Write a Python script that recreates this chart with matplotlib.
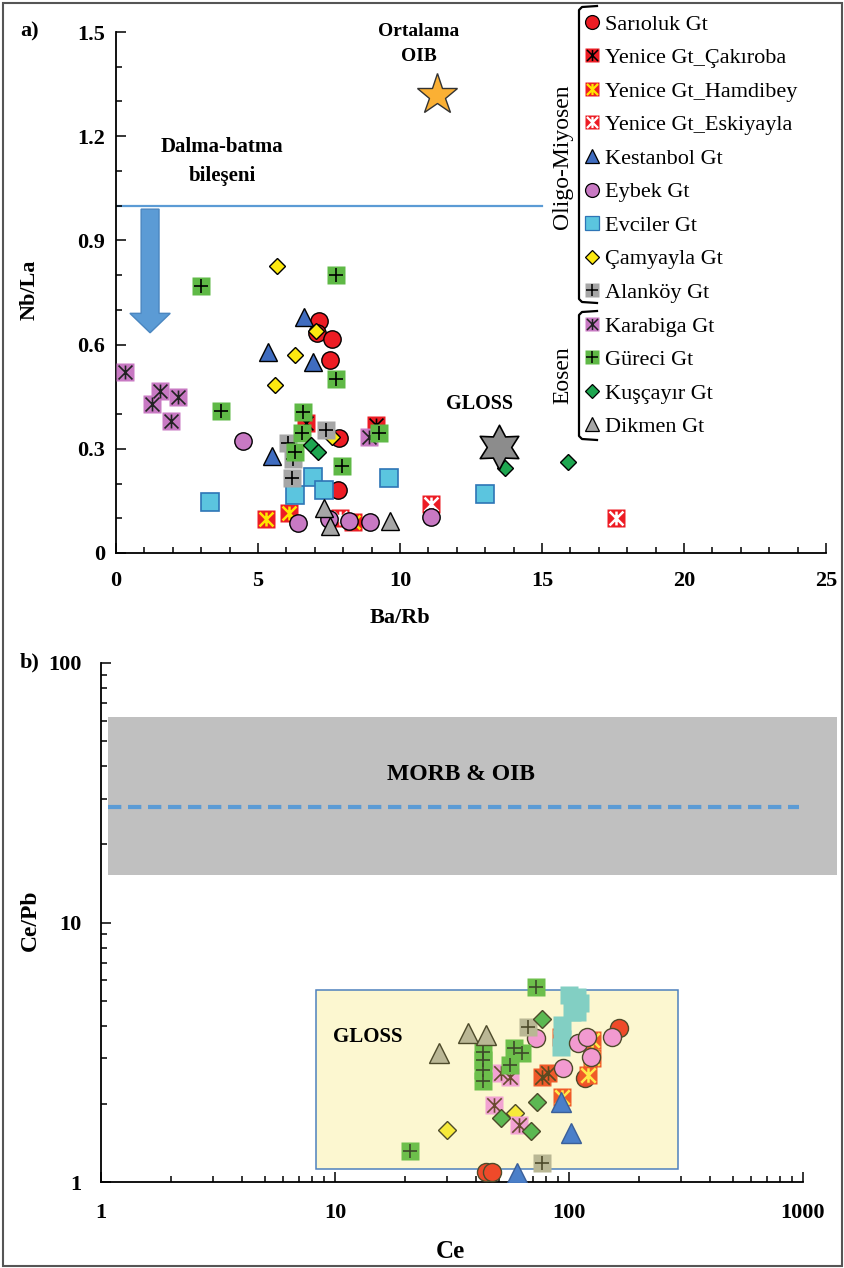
import numpy as np
import matplotlib
matplotlib.use('Agg')
from matplotlib import pyplot as plt
from matplotlib.lines import Line2D
from matplotlib.path import Path
from matplotlib.patches import Rectangle, FancyArrow
from matplotlib.legend_handler import HandlerTuple

# ---- a) Nb/La vs Ba/Rb ----
sarioluk_a_x = [7.15, 7.07, 7.6, 7.53, 7.85, 7.82]
sarioluk_a_y = [0.668, 0.633, 0.616, 0.556, 0.331, 0.18]
cakiroba_a_x = [6.7, 9.15]
cakiroba_a_y = [0.374, 0.368]
hamdibey_a_x = [5.28, 6.1, 8.35]
hamdibey_a_y = [0.098, 0.115, 0.09]
eskiyayla_a_x = [7.9, 11.1, 17.6]
eskiyayla_a_y = [0.10, 0.14, 0.10]
kestanbol_a_x = [6.62, 5.35, 6.94, 5.5]
kestanbol_a_y = [0.68, 0.58, 0.55, 0.28]
eybek_a_x = [4.47, 6.4, 7.5, 8.2, 8.94, 11.1]
eybek_a_y = [0.323, 0.086, 0.098, 0.093, 0.09, 0.104]
evciler_a_x = [3.3, 6.3, 6.94, 7.33, 9.6, 13.0]
evciler_a_y = [0.147, 0.167, 0.22, 0.18, 0.216, 0.17]
camyayla_a_x = [5.67, 7.04, 6.3, 5.6, 7.6]
camyayla_a_y = [0.827, 0.64, 0.57, 0.484, 0.335]
alankoy_a_x = [7.4, 6.06, 6.2, 6.25]
alankoy_a_y = [0.354, 0.317, 0.216, 0.27]
karabiga_a_x = [0.32, 1.55, 1.27, 2.18, 1.94, 8.9]
karabiga_a_y = [0.52, 0.467, 0.43, 0.45, 0.38, 0.334]
gureci_a_x = [3.0, 7.75, 7.75, 3.7, 6.6, 6.55, 6.3, 7.95, 9.26]
gureci_a_y = [0.77, 0.80, 0.50, 0.41, 0.405, 0.345, 0.29, 0.25, 0.345]
kuscayir_a_x = [6.87, 7.1, 13.7, 15.9]
kuscayir_a_y = [0.31, 0.29, 0.245, 0.262]
dikmen_a_x = [7.33, 7.53, 9.65]
dikmen_a_y = [0.13, 0.078, 0.092]

oib_x, oib_y = 11.3, 1.32
gloss_a_x, gloss_a_y = 13.5, 0.305
subduction_nbla = 1.0

# ---- b) Ce/Pb vs Ce ----
sarioluk_b_x = [44, 47, 164, 117]
sarioluk_b_y = [1.09, 1.09, 3.93, 2.52]
cakiroba_b_x = [77, 81]
cakiroba_b_y = [2.55, 2.62]
hamdibey_b_x = [92, 126, 126, 121, 93]
hamdibey_b_y = [3.63, 3.53, 3.0, 2.59, 2.13]
kestanbol_b_x = [60, 92, 102]
kestanbol_b_y = [1.08, 2.04, 1.55]
eybek_b_x = [72, 109, 119, 152, 124, 94]
eybek_b_y = [3.6, 3.44, 3.63, 3.63, 3.04, 2.76]
evciler_b_x = [100, 108, 111, 103, 108, 93, 92, 93]
evciler_b_y = [5.27, 5.18, 4.9, 4.53, 4.5, 4.04, 3.31, 3.55]
camyayla_b_x = [30, 59]
camyayla_b_y = [1.59, 1.85]
alankoy_b_x = [77, 67]
alankoy_b_y = [1.18, 3.96]
karabiga_b_x = [51, 56, 48, 61]
karabiga_b_y = [2.63, 2.54, 1.98, 1.66]
gureci_b_x = [21, 43, 43, 43, 43, 58, 63, 56, 72]
gureci_b_y = [1.32, 3.18, 2.96, 2.7, 2.45, 3.29, 3.15, 2.83, 5.66]
kuscayir_b_x = [51, 69, 73, 77]
kuscayir_b_y = [1.77, 1.57, 2.04, 4.26]
dikmen_b_x = [27.8, 37, 44]
dikmen_b_y = [3.15, 3.76, 3.7]

morb_oib_band = (15.2, 62.0)
morb_oib_line = 27.8
gloss_box_x = (8.3, 292)
gloss_box_y = (1.12, 5.5)

W, H = 845, 1268
serif = 'Liberation Serif'

def fx(px):
    return px / W

def fy(py):
    return 1 - py / H

# asterisk drawn over the Yenice / Karabiga squares
ast = Path([(-1, -1), (1, 1), (-1, 1), (1, -1), (0, -1), (0, 1)],
           [Path.MOVETO, Path.LINETO, Path.MOVETO, Path.LINETO, Path.MOVETO, Path.LINETO])
hexstar = Path.unit_regular_star(6, 0.55)

fig = plt.figure(figsize=(W / 100, H / 100), dpi=100)

def style_axes(ax, labelpad_x, labelpad_y):
    for s in ['top', 'right']:
        ax.spines[s].set_visible(False)
    for s in ['left', 'bottom']:
        ax.spines[s].set_linewidth(1.3)
    ax.tick_params(which='both', direction='in', width=1.1)
    ax.tick_params(which='major', length=7)
    ax.tick_params(which='minor', length=4)
    ax.tick_params(axis='x', pad=labelpad_x)
    ax.tick_params(axis='y', pad=labelpad_y)
    for lab in ax.get_xticklabels() + ax.get_yticklabels():
        lab.set_fontfamily(serif)
        lab.set_fontweight('bold')
        lab.set_fontsize(16)


def plain(ax, x, y, marker, face, edge, ms, mew=1.0, z=3):
    ax.plot(x, y, ls='none', marker=marker, mfc=face, mec=edge, ms=ms, mew=mew, zorder=z)


def boxed(ax, x, y, face, sym, symcolor, ms, z=3, symw=1.2):
    ax.plot(x, y, ls='none', marker='s', mfc=face, mec='none', ms=ms, zorder=z)
    ax.plot(x, y, ls='none', marker=sym, color=symcolor, ms=ms * 0.8, mew=symw, zorder=z)

# ================= a) =================
ax = fig.add_axes([fx(116), fy(553), fx(826) - fx(116), fy(32) - fy(553)])
ax.set_xlim(0, 25)
ax.set_ylim(0, 1.5)
ax.set_xticks(np.arange(0, 26, 5))
ax.set_xticks(np.arange(0, 26, 1), minor=True)
ax.set_yticks(np.arange(0, 1.51, 0.3))
ax.set_yticks(np.arange(0, 1.51, 0.1), minor=True)
ax.set_xticklabels(['0', '5', '10', '15', '20', '25'])
ax.set_yticklabels(['0', '0.3', '0.6', '0.9', '1.2', '1.5'])
style_axes(ax, 13, 8)

blue_line = '#5b9bd5'
ax.plot([0, 15], [subduction_nbla, subduction_nbla], color=blue_line, lw=1.6, zorder=1)
ax.add_patch(FancyArrow(1.2, 0.99, 0, -0.356, width=0.63, head_width=1.42,
                        head_length=0.056, length_includes_head=True,
                        facecolor=blue_line, edgecolor='#4a86c0', lw=1, zorder=2))

ms_a = 12.5
plain(ax, sarioluk_a_x, sarioluk_a_y, 'o', '#ed1c24', 'black', ms_a)
boxed(ax, cakiroba_a_x, cakiroba_a_y, '#ed1c24', ast, 'black', ms_a)
boxed(ax, hamdibey_a_x, hamdibey_a_y, '#ed1c24', ast, '#ffe600', ms_a, symw=1.8)
boxed(ax, eskiyayla_a_x, eskiyayla_a_y, '#ed1c24', ast, 'white', ms_a, symw=1.8)
plain(ax, kestanbol_a_x, kestanbol_a_y, '^', '#3f6cbf', 'black', 13.5)
plain(ax, eybek_a_x, eybek_a_y, 'o', '#c879c3', 'black', ms_a)
plain(ax, evciler_a_x, evciler_a_y, 's', '#5bc5df', '#2e75b6', ms_a, mew=1.2)
plain(ax, camyayla_a_x, camyayla_a_y, 'D', '#fde910', 'black', 8.5)
boxed(ax, alankoy_a_x, alankoy_a_y, '#a6a6a6', '+', 'black', ms_a)
boxed(ax, karabiga_a_x, karabiga_a_y, '#c879c3', ast, '#222222', ms_a)
boxed(ax, gureci_a_x, gureci_a_y, '#5fb946', '+', 'black', ms_a)
plain(ax, kuscayir_a_x, kuscayir_a_y, 'D', '#1ea650', 'black', 8.5)
plain(ax, dikmen_a_x, dikmen_a_y, '^', '#a6a6a6', 'black', 13.5)

ax.plot(oib_x, oib_y, marker='*', mfc='#fbb034', mec='#333333', mew=1, ms=31, zorder=4)
ax.plot(gloss_a_x, gloss_a_y, marker=hexstar, mfc='#8c8c8c', mec='black', mew=1.2, ms=32, zorder=4)

tb = dict(family=serif, fontweight='bold', ha='center', va='center')
fig.text(fx(419), fy(44), 'Ortalama\nOIB', fontsize=14, linespacing=1.55, **tb)
fig.text(fx(222), fy(162), 'Dalma-batma\nbileşeni', fontsize=15, linespacing=1.6, **tb)
fig.text(fx(480), fy(404), 'GLOSS', fontsize=14.5, **tb)

lab = dict(family=serif, fontweight='bold', fontsize=16, ha='center', va='center')
fig.text(fx(30), fy(31), 'a)', **lab)
fig.text(fx(30), fy(290), 'Nb/La', rotation=90, **lab)
fig.text(fx(400), fy(618), 'Ba/Rb', **lab)

# legend with overlaid square + symbol handles
def h(marker, face, edge='black', ms=10, mew=0.9):
    return Line2D([], [], ls='none', marker=marker, mfc=face, mec=edge, ms=ms, mew=mew)

def hs(face, sym, symcolor, symw=1.1):
    return (h('s', face, 'none', 10), Line2D([], [], ls='none', marker=sym, color=symcolor, ms=8, mew=symw))

handles = [
    h('o', '#ed1c24'),
    hs('#ed1c24', ast, 'black'),
    hs('#ed1c24', ast, '#ffe600', 1.6),
    hs('#ed1c24', ast, 'white', 1.6),
    h('^', '#3f6cbf', ms=10),
    h('o', '#c879c3'),
    h('s', '#5bc5df', '#2e75b6'),
    h('D', '#fde910', ms=7),
    hs('#a6a6a6', '+', 'black'),
    hs('#c879c3', ast, '#222222'),
    hs('#5fb946', '+', 'black'),
    h('D', '#1ea650', ms=7),
    h('^', '#a6a6a6', ms=10),
]
labels = ['Sarıoluk Gt', 'Yenice Gt_Çakıroba', 'Yenice Gt_Hamdibey', 'Yenice Gt_Eskiyayla',
          'Kestanbol Gt', 'Eybek Gt', 'Evciler Gt', 'Çamyayla Gt', 'Alanköy Gt',
          'Karabiga Gt', 'Güreci Gt', 'Kuşçayır Gt', 'Dikmen Gt']
leg = ax.legend(handles, labels, loc='upper left', bbox_to_anchor=(fx(584), fy(14)),
                bbox_transform=fig.transFigure, frameon=False, handlelength=0.7,
                handletextpad=0.25, labelspacing=0.585, borderpad=0, borderaxespad=0,
                handler_map={tuple: HandlerTuple(ndivide=1)},
                prop=dict(family=serif, size=16))

# group brackets
def bracket(top, bot, x0=579, x1=597):
    fig.add_artist(Line2D([fx(x1), fx(x0 + 3), fx(x0), fx(x0), fx(x0 + 3), fx(x1)],
                          [fy(top), fy(top + 1), fy(top + 4), fy(bot - 4), fy(bot - 1), fy(bot)],
                          color='black', lw=1.6))

bracket(6, 303)
bracket(311, 440)
fig.text(fx(563), fy(157), 'Oligo-Miyosen', rotation=90, family=serif, fontsize=17,
         ha='center', va='center')
fig.text(fx(563), fy(375), 'Eosen', rotation=90, family=serif, fontsize=17,
         ha='center', va='center')

# ================= b) =================
bx = fig.add_axes([fx(101), fy(1182), fx(803) - fx(101), fy(663) - fy(1182)])
bx.set_xscale('log')
bx.set_yscale('log')
bx.set_xlim(1, 1000)
bx.set_ylim(1, 100)
bx.set_xticks([1, 10, 100, 1000])
bx.set_xticklabels(['1', '10', '100', '1000'])
bx.set_yticks([1, 10, 100])
bx.set_yticklabels(['1', '10', '100'])
style_axes(bx, 15, 14)

bx.add_patch(Rectangle((1.07, morb_oib_band[0]), 1400 - 1.07, morb_oib_band[1] - morb_oib_band[0],
                       facecolor='#c0c0c0', edgecolor='none', clip_on=False, zorder=0))
bx.plot([1.07, 960], [morb_oib_line, morb_oib_line], color=blue_line, lw=3,
        dashes=(3.2, 1.6), zorder=1)
bx.add_patch(Rectangle((gloss_box_x[0], gloss_box_y[0]), gloss_box_x[1] - gloss_box_x[0],
                       gloss_box_y[1] - gloss_box_y[0], facecolor='#fcf7d0',
                       edgecolor='#4e81bd', lw=1.1, zorder=1))

eb = '#4d4a2a'
ms_b = 13
plain(bx, sarioluk_b_x, sarioluk_b_y, 'o', '#ef4a2a', eb, ms_b)
boxed(bx, cakiroba_b_x, cakiroba_b_y, '#ef5a2a', ast, '#5a4a20', ms_b)
boxed(bx, hamdibey_b_x, hamdibey_b_y, '#f05a28', ast, '#ffe94a', ms_b, symw=1.8)
plain(bx, kestanbol_b_x, kestanbol_b_y, '^', '#4a7fc9', '#3a5f99', 14)
plain(bx, evciler_b_x, evciler_b_y, 's', '#82cfc3', 'none', ms_b)
plain(bx, eybek_b_x, eybek_b_y, 'o', '#f29ad0', eb, ms_b)
plain(bx, camyayla_b_x, camyayla_b_y, 'D', '#f7ea3a', eb, 9)
boxed(bx, alankoy_b_x, alankoy_b_y, '#b9b794', '+', '#4d4a2a', ms_b)
boxed(bx, karabiga_b_x, karabiga_b_y, '#f2a2d2', ast, '#6a4a30', ms_b)
boxed(bx, gureci_b_x, gureci_b_y, '#6dbf4b', '+', '#3d4a2a', ms_b)
plain(bx, kuscayir_b_x, kuscayir_b_y, 'D', '#5cb852', eb, 9)
plain(bx, dikmen_b_x, dikmen_b_y, '^', '#bab795', eb, 14)

fig.text(fx(461), fy(775), 'MORB & OIB', family=serif, fontweight='bold', fontsize=17,
         ha='center', va='center')
fig.text(fx(368), fy(1037), 'GLOSS', family=serif, fontweight='bold', fontsize=15,
         ha='center', va='center')
fig.text(fx(30), fy(662), 'b)', **lab)
fig.text(fx(30), fy(920), 'Ce/Pb', rotation=90, fontsize=17, **{k: v for k, v in lab.items() if k != 'fontsize'})
fig.text(fx(450), fy(1251), 'Ce', fontsize=18, **{k: v for k, v in lab.items() if k != 'fontsize'})

# outer frame
fig.add_artist(Rectangle((fx(3), fy(1266)), fx(842) - fx(3), fy(3) - fy(1266),
                         transform=fig.transFigure, fill=False, edgecolor='#555555', lw=1.5))

fig.savefig('out.png', dpi=100)
